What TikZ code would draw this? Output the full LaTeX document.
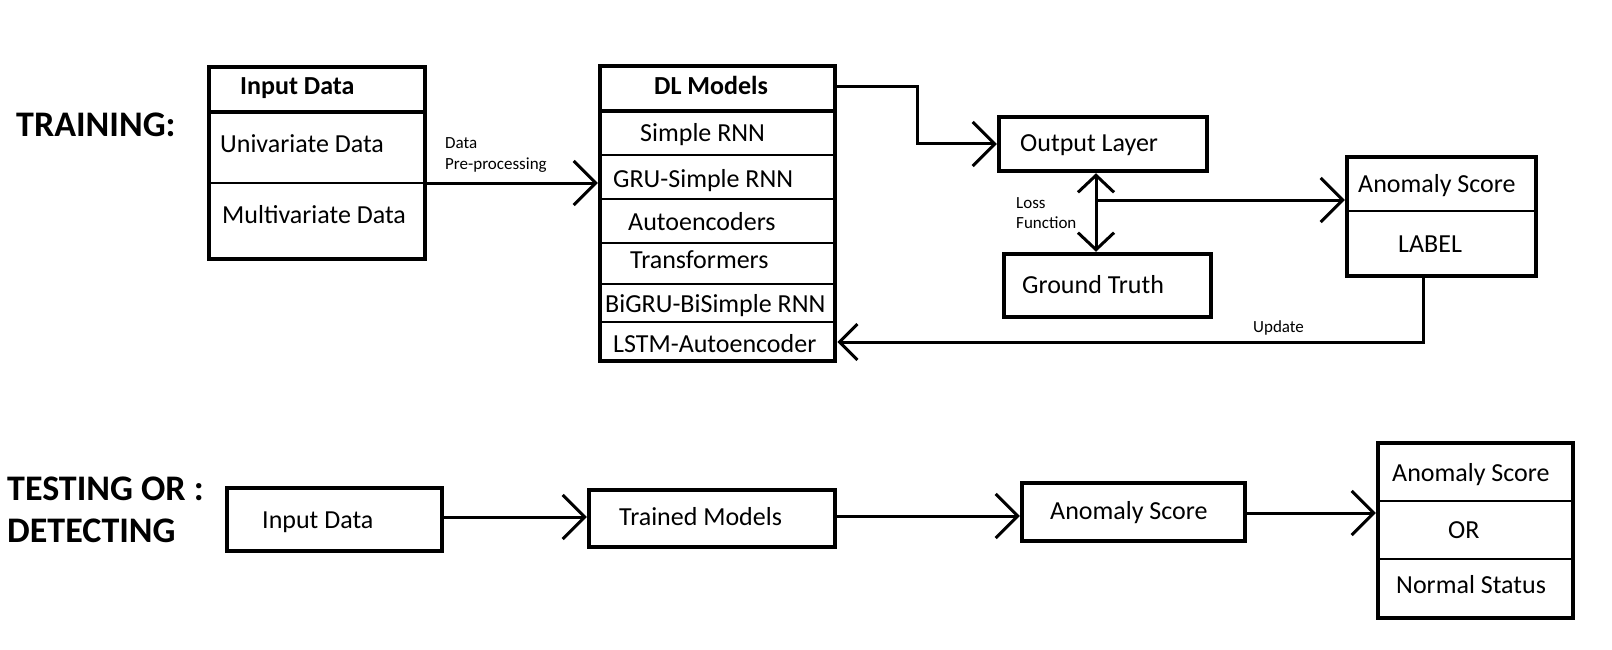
\documentclass[tikz,border=0pt]{standalone}
\usepackage{fontspec}
\setmainfont{Carlito}
\usetikzlibrary{arrows.meta}

\begin{document}
\begin{tikzpicture}[x=1pt, y=-1pt,
    block/.style ={draw, line width=4.5pt, inner sep=0pt},
    txt/.style ={anchor=base west, inner sep=0pt, font=\fontsize{26}{30}\selectfont},
    head/.style ={txt, font=\fontsize{26}{30}\selectfont\bfseries},
    small/.style ={txt, font=\fontsize{17}{20}\selectfont},
    phase/.style ={txt, font=\fontsize{36}{40}\selectfont\bfseries},
    rowline/.style ={line width=1.3pt},
    headline/.style ={line width=4pt},
    arr/.style ={line width=3pt, -{Straight Barb[length=22pt,width=44pt]}},
    arrsmall/.style ={line width=3pt, -{Straight Barb[length=18pt,width=36pt]}},
    arrboth/.style ={line width=3pt, {Straight Barb[length=17pt,width=36pt]}-{Straight Barb[length=17pt,width=36pt]}}]
   \useasboundingbox (0,0) rectangle (1612,650);

   % training
   \node[phase] (lbltrain) at (16,137) {TRAINING:};

   \node[block, minimum width=216pt, minimum height=192pt] (indata) at (317,163) {};
   \draw[headline] (207,112) -- (427,112);
   \draw[rowline] (207,183) -- (427,183);
   \node[head] (indatahead) at (240,95) {Input Data};
   \node[txt] (univar) at (220,153) {Univariate Data};
   \node[txt] (multivar) at (222,223) {Multivariate Data};

   \node[block, minimum width=235pt, minimum height=295pt] (dlmodels) at (717.5,213.5) {};
   \draw[headline] (598,111) -- (837,111);
   \foreach \y in {155,199,243,284,322}
      \draw[rowline] (598,\y) -- (837,\y);
   \node[head] (dlhead) at (654,95) {DL Models};
   \node[txt] (m1) at (640,142) {Simple RNN};
   \node[txt] (m2) at (613,187) {GRU-Simple RNN};
   \node[txt] (m3) at (628,230) {Autoencoders};
   \node[txt] (m4) at (630,268) {Transformers};
   \node[txt] (m5) at (605,312) {BiGRU-BiSimple RNN};
   \node[txt] (m6) at (613,352) {LSTM-Autoencoder};

   \node[block, minimum width=208pt, minimum height=54pt] (outlayer) at (1103,144) {};
   \node[txt] (outtxt) at (1020,152) {Output Layer};

   \node[block, minimum width=207pt, minimum height=63pt] (gtruth) at (1107.5,285.5) {};
   \node[txt] (gttxt) at (1022,293) {Ground Truth};

   \node[block, minimum width=189pt, minimum height=119pt] (ascore) at (1441.5,216.5) {};
   \draw[rowline] (1345,211) -- (1538,211);
   \node[txt] (astxt) at (1358,192) {Anomaly Score};
   \node[txt] (labeltxt) at (1398,252) {LABEL};

   \node[small] (pre1) at (445,149) {Data};
   \node[small] (pre2) at (445,169) {Pre-processing};
   \node[small] (loss1) at (1016,208) {Loss};
   \node[small] (loss2) at (1016,228) {Function};
   \node[small] (upd) at (1253,332) {Update};

   \coordinate (branch) at (1096,200);
   \draw[arr] (indata.east |- 0,183) -- (dlmodels.west |- 0,183);
   \draw[arr] (dlmodels.east |- 0,87) -- (917,87) |- (outlayer.west);
   \draw[arrboth] (outlayer.south -| branch) -- (gtruth.north -| branch);
   \draw[arr] (branch) -- (ascore.west |- branch);
   \draw[arrsmall] (ascore.south -| 1423,0) |- (dlmodels.east |- 0,342);

   % testing
   \node[phase] (lbltest1) at (7,500) {TESTING OR :};
   \node[phase] (lbltest2) at (7,542) {DETECTING};

   \node[block, minimum width=215pt, minimum height=63pt] (tin) at (334.5,519.5) {};
   \node[txt] (tintxt) at (262,528) {Input Data};

   \node[block, minimum width=246pt, minimum height=57pt] (tmodel) at (712,518.5) {};
   \node[txt] (tmodeltxt) at (619,525) {Trained Models};

   \node[block, minimum width=223pt, minimum height=58pt] (tascore) at (1133.5,512) {};
   \node[txt] (tastxt) at (1050,519) {Anomaly Score};

   \node[block, minimum width=195pt, minimum height=175pt] (result) at (1475.5,530.5) {};
   \draw[rowline] (1376,501) -- (1575,501);
   \draw[rowline] (1376,559) -- (1575,559);
   \node[txt] (res1) at (1392,481) {Anomaly Score};
   \node[txt] (res2) at (1448,538) {OR};
   \node[txt] (res3) at (1396,593) {Normal Status};

   \draw[arr] (tin.east |- 0,517) -- (tmodel.west |- 0,517);
   \draw[arr] (tmodel.east |- 0,516) -- (tascore.west |- 0,516);
   \draw[arr] (tascore.east |- 0,513) -- (result.west |- 0,513);
\end{tikzpicture}
\end{document}
